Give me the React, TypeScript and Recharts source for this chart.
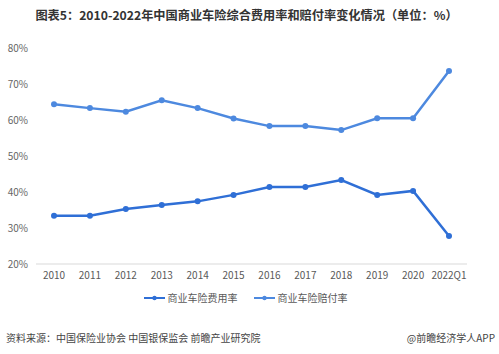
import React from "react";
import { LineChart, Line, XAxis, YAxis } from "recharts";

const years = ["2010", "2011", "2012", "2013", "2014", "2015", "2016", "2017", "2018", "2019", "2020", "2022Q1"];
// 商业车险费用率 (%)
const expenseRate = [33.4, 33.4, 35.3, 36.4, 37.4, 39.2, 41.4, 41.4, 43.3, 39.2, 40.3, 27.8];
// 商业车险赔付率 (%)
const payoutRate = [64.4, 63.3, 62.3, 65.5, 63.3, 60.4, 58.3, 58.3, 57.2, 60.5, 60.5, 73.6];
const yTicks = [20, 30, 40, 50, 60, 70, 80];

const EXPENSE_COLOR = "#2f6fd6";
const PAYOUT_COLOR = "#4d89df";
const FONT = "'Noto Sans CJK SC', 'Noto Sans', sans-serif";

const data = years.map((year, i) => ({
    year,
    expense: expenseRate[i],
    payout: payoutRate[i],
}));

const legendItems = [
    { name: "商业车险费用率", color: EXPENSE_COLOR },
    { name: "商业车险赔付率", color: PAYOUT_COLOR },
];

function ChartLegend() {
    return (
        <div style={{ display: "flex", justifyContent: "center", gap: 16, fontSize: 10, color: "#595959", marginLeft: -8 }}>
            {legendItems.map(item => (
                <div key={item.name} style={{ display: "flex", alignItems: "center" }}>
                    <svg width={21} height={8} style={{ marginRight: 3 }}>
                        <line x1={0} y1={4} x2={21} y2={4} stroke={item.color} strokeWidth={2} />
                        <circle cx={10.5} cy={4} r={2.2} fill={item.color} />
                    </svg>
                    <span>{item.name}</span>
                </div>
            ))}
        </div>
    );
}

export default function App() {
    return (
        <div style={{ position: "fixed", top: 0, left: 0, width: 499, height: 354, background: "#fff", fontFamily: FONT }}>
            <div style={{ position: "absolute", top: 6, left: 0, width: 493, textAlign: "center", fontSize: 12.2, fontWeight: 700, color: "#333" }}>
                图表5：2010-2022年中国商业车险综合费用率和赔付率变化情况（单位：%）
            </div>
            <LineChart width={499} height={354} data={data} margin={{ top: 48, right: 32, left: 0, bottom: 60 }}>
                <XAxis
                    dataKey="year"
                    height={30}
                    padding={{ left: 18, right: 18 }}
                    tickLine={false}
                    axisLine={{ stroke: "#d9d9d9" }}
                    tick={{ fontSize: 10, fill: "#595959", fontFamily: FONT }}
                    interval={0}
                />
                <YAxis
                    width={36}
                    domain={[20, 80]}
                    ticks={yTicks}
                    tickFormatter={(v) => `${v}%`}
                    tickLine={false}
                    axisLine={false}
                    tick={{ fontSize: 10, fill: "#666", fontFamily: FONT }}
                />
                <Line
                    dataKey="expense"
                    name="商业车险费用率"
                    stroke={EXPENSE_COLOR}
                    strokeWidth={2.5}
                    dot={{ r: 3, fill: EXPENSE_COLOR, stroke: EXPENSE_COLOR, strokeWidth: 0 }}
                    isAnimationActive={false}
                />
                <Line
                    dataKey="payout"
                    name="商业车险赔付率"
                    stroke={PAYOUT_COLOR}
                    strokeWidth={2.5}
                    dot={{ r: 3, fill: PAYOUT_COLOR, stroke: PAYOUT_COLOR, strokeWidth: 0 }}
                    isAnimationActive={false}
                />
            </LineChart>
            <div style={{ position: "absolute", top: 290, left: 0, width: 499 }}>
                <ChartLegend />
            </div>
            <div style={{ position: "absolute", top: 330, left: 6, fontSize: 10, color: "#444" }}>
                资料来源：中国保险业协会 中国银保监会 前瞻产业研究院
            </div>
            <div style={{ position: "absolute", top: 330, right: 4, fontSize: 10, color: "#444" }}>
                @前瞻经济学人APP
            </div>
        </div>
    );
}
